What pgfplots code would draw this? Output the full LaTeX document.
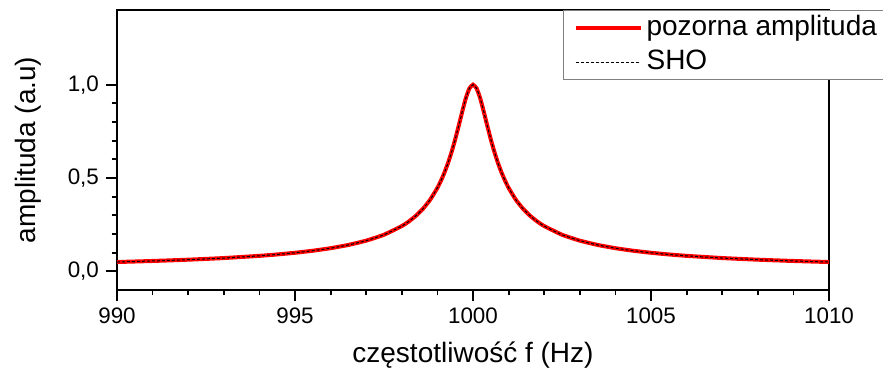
\documentclass[border=0pt]{standalone}
\usepackage{pgfplots}
\pgfplotsset{compat=1.18}
\usepackage{fontspec}
\setmainfont{Liberation Sans}
\begin{document}
\begin{tikzpicture}
\path[use as bounding box] (-58.5pt,-43pt) rectangle (383pt,145pt);
\begin{axis}[
  scale only axis,
  width=356pt, height=140pt,
  xmin=990, xmax=1010, ymin=-0.1, ymax=1.4,
  xtick={990,995,1000,1005,1010},
  ytick={0,0.5,1.0},
  minor x tick num=4,
  minor y tick num=4,
  tick align=outside,
  xtick pos=bottom, ytick pos=left,
  major tick length=5.5pt, minor tick length=2.7pt,
  every tick/.style={black, line width=0.9pt},
  axis line style={line width=0.9pt},
  /pgf/number format/assume math mode=true,
  yticklabel style={/pgf/number format/.cd, use comma, fixed, fixed zerofill, precision=1},
  xticklabel style={/pgf/number format/.cd, set thousands separator={}},
  tick label style={font=\fontsize{11.2}{13}\selectfont},
  xlabel={częstotliwość f (Hz)},
  ylabel={amplituda (a.u)},
  every axis x label/.style={at={(axis description cs:0.5,-0.232)}, anchor=center, font=\fontsize{14}{16}\selectfont},
  every axis y label/.style={at={(axis description cs:-0.125,0.5)}, anchor=center, rotate=90, font=\fontsize{14}{16}\selectfont},
  legend style={at={(rel axis cs:0.6264,1)}, anchor=north west, draw=gray, line width=0.6pt, fill=white,
    font=\fontsize{14}{16}\selectfont, inner xsep=5pt, inner ysep=0.5pt, row sep=0.5pt,
    nodes={inner ysep=1.5pt, text height=10.5pt, text depth=3pt}},
  legend cell align=left,
  legend image code/.code={\draw[#1] (0pt,0pt) -- (32.5pt,0pt);},
]
\pgfplotstableread{
x y
990 0.0499
991 0.0555
992 0.0624
993 0.0712
994 0.0830
994.5 0.0905
995 0.0995
995.5 0.1104
996 0.1240
996.5 0.1414
997 0.1644
997.5 0.1961
998 0.2425
998.2 0.2676
998.4 0.2983
998.6 0.3363
998.8 0.3846
999 0.4472
999.1 0.4856
999.2 0.5300
999.3 0.5812
999.4 0.6402
999.5 0.7071
999.6 0.7809
999.7 0.8575
999.8 0.9285
999.9 0.9806
1000 1.0000
1000.1 0.9806
1000.2 0.9285
1000.3 0.8575
1000.4 0.7809
1000.5 0.7071
1000.6 0.6402
1000.7 0.5812
1000.8 0.5300
1000.9 0.4856
1001 0.4472
1001.2 0.3846
1001.4 0.3363
1001.6 0.2983
1001.8 0.2676
1002 0.2425
1002.5 0.1961
1003 0.1644
1003.5 0.1414
1004 0.1240
1004.5 0.1104
1005 0.0995
1005.5 0.0905
1006 0.0830
1007 0.0712
1008 0.0624
1009 0.0555
1010 0.0499
}\datatab
\addplot[red, line width=2pt, smooth, tension=0.3] table {\datatab};
\addlegendentry{pozorna amplituda}
\addplot[black, line width=0.5pt, dash pattern=on 1.5pt off 1pt, smooth, tension=0.3] table {\datatab};
\addlegendentry{SHO}
\end{axis}
\end{tikzpicture}
\end{document}
